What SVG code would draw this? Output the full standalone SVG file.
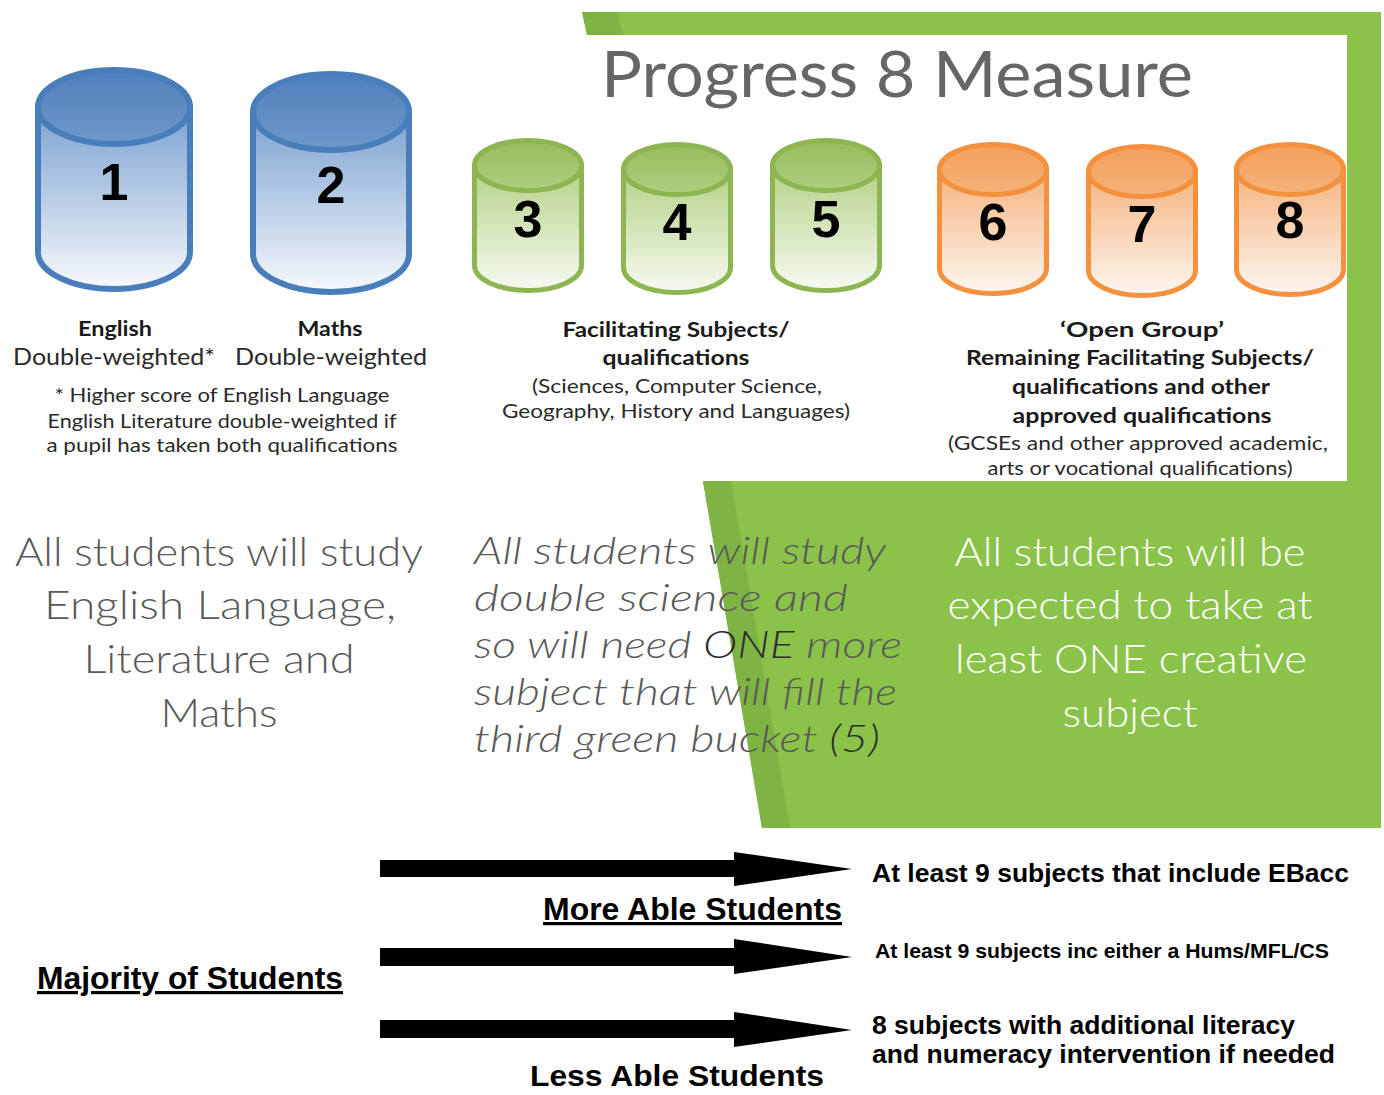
<svg xmlns="http://www.w3.org/2000/svg" width="1384" height="1095" viewBox="0 0 1384 1095">
<defs>
<linearGradient id="gBlueTop" x1="0" y1="0" x2="0" y2="1"><stop offset="0" stop-color="#4f7fbc"/><stop offset="1" stop-color="#6f99cb"/></linearGradient>
<linearGradient id="gBlueBody" x1="0" y1="0" x2="0" y2="1"><stop offset="0" stop-color="#7aa1cf"/><stop offset="1" stop-color="#f7f9fd"/></linearGradient>
<linearGradient id="gGreenTop" x1="0" y1="0" x2="0" y2="1"><stop offset="0" stop-color="#95bd5d"/><stop offset="1" stop-color="#afcf80"/></linearGradient>
<linearGradient id="gGreenBody" x1="0" y1="0" x2="0" y2="1"><stop offset="0" stop-color="#b3d185"/><stop offset="1" stop-color="#f7faf2"/></linearGradient>
<linearGradient id="gOrangeTop" x1="0" y1="0" x2="0" y2="1"><stop offset="0" stop-color="#f3a05c"/><stop offset="1" stop-color="#f5b27a"/></linearGradient>
<linearGradient id="gOrangeBody" x1="0" y1="0" x2="0" y2="1"><stop offset="0" stop-color="#f5b37e"/><stop offset="1" stop-color="#fef6f0"/></linearGradient>
</defs>
<style>
.blue .body{fill:url(#gBlueBody);stroke:#4a7ebb;stroke-width:6}
.blue .top{fill:url(#gBlueTop);stroke:#4a7ebb;stroke-width:6}
.green .body{fill:url(#gGreenBody);stroke:#8db551;stroke-width:5}
.green .top{fill:url(#gGreenTop);stroke:#8db551;stroke-width:5}
.orange .body{fill:url(#gOrangeBody);stroke:#f4913e;stroke-width:5}
.orange .top{fill:url(#gOrangeTop);stroke:#f4913e;stroke-width:5}
.num{font-family:"Liberation Sans",Arial,sans-serif;font-weight:bold;font-size:52px;fill:#000;text-anchor:middle}
.lblb{font-family:Lato,"Liberation Sans",sans-serif;font-weight:bold;font-size:21px;fill:#1a1a1a;text-anchor:middle}
.lbl{font-family:Lato,"Liberation Sans",sans-serif;font-size:23px;fill:#2a2a2a;text-anchor:middle}
.note{font-family:Lato,"Liberation Sans",sans-serif;font-size:19px;fill:#2a2a2a;text-anchor:middle}
.big{font-family:Lato,"Liberation Sans",sans-serif;font-weight:300;font-size:40px;fill:#595959}
.bigi{font-family:Lato,"Liberation Sans",sans-serif;font-weight:300;font-style:italic;font-size:38px;fill:#595959}
.dark{fill:#2e2e2e}
.bigw{font-family:Lato,"Liberation Sans",sans-serif;font-weight:300;font-size:40px;fill:#fff;text-anchor:middle}
.title{font-family:Lato,"Liberation Sans",sans-serif;font-size:64px;fill:#666666}
.ar{font-family:"Liberation Sans",Arial,sans-serif;font-weight:bold;fill:#000}
.arrow{fill:#000}
.g1{fill:#8bc34a}
.g2{fill:#7db443}
</style>
<rect width="1384" height="1095" fill="#fff"/>
<g id="background">
<polygon class="g1" points="582,12 1381,12 1381,35 587,35"/>
<polygon class="g2" points="582,12 617,12 623,35 587,35"/>
<rect class="g1" x="1347" y="12" width="34" height="816"/>
<polygon class="g1" points="703,481 1381,481 1381,828 762,828"/>
<polygon class="g2" points="703,481 731,481 790,828 762,828"/>
</g>
<g id="title"><text class="title" x="601" y="97" textLength="592" lengthAdjust="spacingAndGlyphs">Progress 8 Measure</text></g>

<g id="bucket1" class="blue">
<path class="body" d="M38,107 L38,252 A76,37 0 0 0 190,252 L190,107 Z"/>
<ellipse class="top" cx="114" cy="107" rx="76" ry="37"/>
<text class="num" x="114" y="200">1</text>
</g>
<g id="bucket2" class="blue">
<path class="body" d="M253,112 L253,254 A78,38 0 0 0 409,254 L409,112 Z"/>
<ellipse class="top" cx="331" cy="112" rx="78" ry="38"/>
<text class="num" x="331" y="203">2</text>
</g>
<g id="bucket3" class="green">
<path class="body" d="M474.5,165.5 L474.5,265.5 A53.5,25 0 0 0 581.5,265.5 L581.5,165.5 Z"/>
<ellipse class="top" cx="528" cy="165.5" rx="53.5" ry="25"/>
<text class="num" x="528" y="237">3</text>
</g>
<g id="bucket4" class="green">
<path class="body" d="M623.5,169.5 L623.5,267.5 A53.5,25 0 0 0 730.5,267.5 L730.5,169.5 Z"/>
<ellipse class="top" cx="677" cy="169.5" rx="53.5" ry="25"/>
<text class="num" x="677" y="240">4</text>
</g>
<g id="bucket5" class="green">
<path class="body" d="M772.5,165.5 L772.5,265.5 A53.5,25 0 0 0 879.5,265.5 L879.5,165.5 Z"/>
<ellipse class="top" cx="826" cy="165.5" rx="53.5" ry="25"/>
<text class="num" x="826" y="237">5</text>
</g>
<g id="bucket6" class="orange">
<path class="body" d="M939.5,169.5 L939.5,268.5 A53.5,25 0 0 0 1046.5,268.5 L1046.5,169.5 Z"/>
<ellipse class="top" cx="993" cy="169.5" rx="53.5" ry="25"/>
<text class="num" x="993" y="240">6</text>
</g>
<g id="bucket7" class="orange">
<path class="body" d="M1088.5,171.5 L1088.5,270.5 A53.5,25 0 0 0 1195.5,270.5 L1195.5,171.5 Z"/>
<ellipse class="top" cx="1142" cy="171.5" rx="53.5" ry="25"/>
<text class="num" x="1142" y="242">7</text>
</g>
<g id="bucket8" class="orange">
<path class="body" d="M1236.5,169.5 L1236.5,269.5 A53.5,25 0 0 0 1343.5,269.5 L1343.5,169.5 Z"/>
<ellipse class="top" cx="1290" cy="169.5" rx="53.5" ry="25"/>
<text class="num" x="1290" y="238">8</text>
</g>

<g id="label-english">
<text class="lblb" x="115" y="336" textLength="74" lengthAdjust="spacingAndGlyphs">English</text>
<text class="lbl" x="114" y="365" textLength="202" lengthAdjust="spacingAndGlyphs">Double-weighted*</text>
</g>
<g id="label-maths">
<text class="lblb" x="330" y="336" textLength="65" lengthAdjust="spacingAndGlyphs">Maths</text>
<text class="lbl" x="331" y="365" textLength="192" lengthAdjust="spacingAndGlyphs">Double-weighted</text>
</g>
<g id="footnote">
<text class="note" x="222" y="402" textLength="335" lengthAdjust="spacingAndGlyphs">* Higher score of English Language</text>
<text class="note" x="222" y="428" textLength="349" lengthAdjust="spacingAndGlyphs">English Literature double-weighted if</text>
<text class="note" x="222" y="452" textLength="351" lengthAdjust="spacingAndGlyphs">a pupil has taken both qualifications</text>
</g>
<g id="label-facilitating">
<text class="lblb" x="676" y="337" textLength="227" lengthAdjust="spacingAndGlyphs">Facilitating Subjects/</text>
<text class="lblb" x="676" y="365" textLength="147" lengthAdjust="spacingAndGlyphs">qualifications</text>
<text class="note" x="677" y="393" textLength="290" lengthAdjust="spacingAndGlyphs">(Sciences, Computer Science,</text>
<text class="note" x="676" y="418" textLength="348" lengthAdjust="spacingAndGlyphs">Geography, History and Languages)</text>
</g>
<g id="label-open">
<text class="lblb" x="1142" y="337" textLength="164" lengthAdjust="spacingAndGlyphs">‘Open Group’</text>
<text class="lblb" x="1140" y="365" textLength="348" lengthAdjust="spacingAndGlyphs">Remaining Facilitating Subjects/</text>
<text class="lblb" x="1141" y="394" textLength="258" lengthAdjust="spacingAndGlyphs">qualifications and other</text>
<text class="lblb" x="1142" y="423" textLength="259" lengthAdjust="spacingAndGlyphs">approved qualifications</text>
<text class="note" x="1138" y="450" textLength="380" lengthAdjust="spacingAndGlyphs">(GCSEs and other approved academic,</text>
<text class="note" x="1140" y="475" textLength="305" lengthAdjust="spacingAndGlyphs">arts or vocational qualifications)</text>
</g>

<g id="text-left">
<text class="big" text-anchor="middle" x="219" y="566" textLength="408" lengthAdjust="spacingAndGlyphs">All students will study</text>
<text class="big" text-anchor="middle" x="220" y="619" textLength="352" lengthAdjust="spacingAndGlyphs">English Language,</text>
<text class="big" text-anchor="middle" x="219" y="673" textLength="271" lengthAdjust="spacingAndGlyphs">Literature and</text>
<text class="big" text-anchor="middle" x="219" y="727" textLength="117" lengthAdjust="spacingAndGlyphs">Maths</text>
</g>
<g id="text-middle">
<text class="bigi" x="474" y="564" textLength="412" lengthAdjust="spacingAndGlyphs">All students will study</text>
<text class="bigi" x="474" y="611" textLength="374" lengthAdjust="spacingAndGlyphs">double science and</text>
<text class="bigi" x="474" y="658" textLength="428" lengthAdjust="spacingAndGlyphs">so will need <tspan class="dark">ONE</tspan> more</text>
<text class="bigi" x="474" y="705" textLength="423" lengthAdjust="spacingAndGlyphs">subject that will fill the</text>
<text class="bigi" x="474" y="752" textLength="406" lengthAdjust="spacingAndGlyphs">third green bucket <tspan class="dark">(5)</tspan></text>
</g>
<g id="text-right">
<text class="bigw" x="1130" y="566" textLength="351" lengthAdjust="spacingAndGlyphs">All students will be</text>
<text class="bigw" x="1130" y="619" textLength="365" lengthAdjust="spacingAndGlyphs">expected to take at</text>
<text class="bigw" x="1131" y="673" textLength="352" lengthAdjust="spacingAndGlyphs">least ONE creative</text>
<text class="bigw" x="1130" y="727" textLength="135" lengthAdjust="spacingAndGlyphs">subject</text>
</g>

<g id="connectors">
<polygon class="arrow" points="380,860 734,860 734,852 852,869 734,886 734,877 380,877"/>
<polygon class="arrow" points="380,948 734,948 734,939 852,957 734,974 734,966 380,966"/>
<polygon class="arrow" points="380,1020 734,1020 734,1012 852,1030 734,1047 734,1038 380,1038"/>
</g>

<g id="label-more-able"><text class="ar" x="543" y="920" font-size="32" text-decoration="underline" textLength="299" lengthAdjust="spacingAndGlyphs">More Able Students</text></g>
<g id="label-majority"><text class="ar" x="37" y="989" font-size="32" text-decoration="underline" textLength="306" lengthAdjust="spacingAndGlyphs">Majority of Students</text></g>
<g id="label-less-able"><text class="ar" x="530" y="1086" font-size="30" textLength="294" lengthAdjust="spacingAndGlyphs">Less Able Students</text></g>
<g id="outcome1"><text class="ar" x="872" y="882" font-size="26" textLength="477" lengthAdjust="spacingAndGlyphs">At least 9 subjects that include EBacc</text></g>
<g id="outcome2"><text class="ar" x="875" y="958" font-size="21" textLength="454" lengthAdjust="spacingAndGlyphs">At least 9 subjects inc either a Hums/MFL/CS</text></g>
<g id="outcome3">
<text class="ar" x="872" y="1034" font-size="26" textLength="423" lengthAdjust="spacingAndGlyphs">8 subjects with additional literacy</text>
<text class="ar" x="872" y="1063" font-size="26" textLength="463" lengthAdjust="spacingAndGlyphs">and numeracy intervention if needed</text>
</g>
</svg>
